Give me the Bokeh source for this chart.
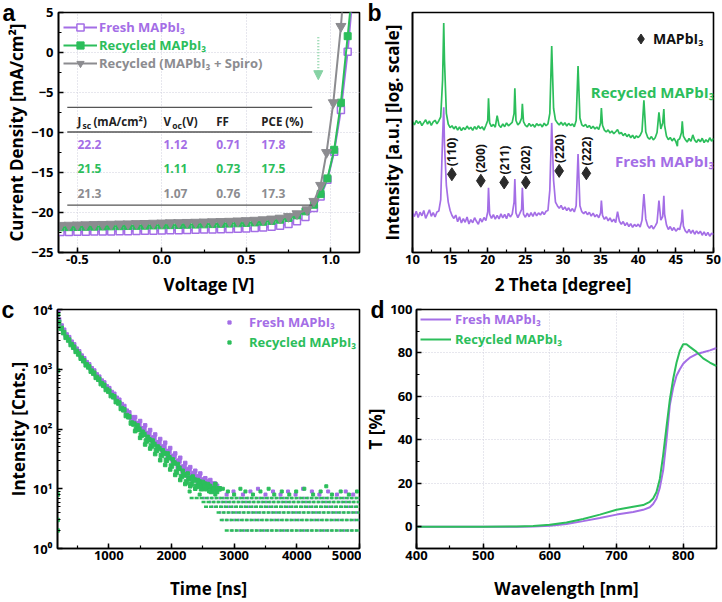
import numpy as np
from bokeh.plotting import figure
from bokeh.layouts import row, column
from bokeh.models import (Legend, LegendItem, Title, Arrow, NormalHead, Range1d,
                          SingleIntervalTicker, FixedTicker, NumeralTickFormatter)
from bokeh.core.properties import value
from bokeh.embed import file_html
from bokeh.resources import INLINE

PURPLE = "#A46EE6"
GREEN = "#2CBE5B"
GRAY = "#8C8C90"
FONT = "Open Sans"

# ---------------- (a) J-V curves ----------------
fresh_v = [-0.60, -0.55, -0.50, -0.45, -0.40, -0.35, -0.30, -0.25, -0.20, -0.15, -0.10, -0.05,
           0.00, 0.05, 0.10, 0.15, 0.20, 0.25, 0.30, 0.35, 0.40, 0.45, 0.50, 0.55, 0.60, 0.65,
           0.70, 0.75, 0.80, 0.85, 0.90, 0.94, 0.98, 1.02, 1.06, 1.10, 1.15]
fresh_j = [-22.45, -22.43, -22.42, -22.40, -22.39, -22.37, -22.36, -22.34, -22.33, -22.31, -22.29,
           -22.27, -22.25, -22.23, -22.21, -22.19, -22.17, -22.14, -22.12, -22.09, -22.06, -22.03,
           -21.99, -21.94, -21.88, -21.79, -21.66, -21.45, -21.10, -20.55, -19.45, -18.0, -15.9,
           -12.4, -7.2, 0.1, 12.0]
recycled_v = fresh_v
recycled_j = [-21.85, -21.83, -21.81, -21.79, -21.77, -21.75, -21.73, -21.71, -21.69, -21.67,
              -21.65, -21.62, -21.60, -21.58, -21.56, -21.53, -21.51, -21.48, -21.45, -21.42,
              -21.39, -21.35, -21.30, -21.24, -21.16, -21.05, -20.90, -20.68, -20.35, -19.85,
              -19.03, -17.7, -15.74, -12.16, -6.27, 2.04, 12.5]
spiro_v = [-0.60, -0.55, -0.50, -0.45, -0.40, -0.35, -0.30, -0.25, -0.20, -0.15, -0.10, -0.05,
           0.00, 0.05, 0.10, 0.15, 0.20, 0.25, 0.30, 0.35, 0.40, 0.45, 0.50, 0.55, 0.60, 0.65,
           0.70, 0.75, 0.80, 0.86, 0.90, 0.94, 0.975, 1.015, 1.06, 1.10]
spiro_j = [-21.60, -21.58, -21.55, -21.53, -21.50, -21.48, -21.46, -21.43, -21.41, -21.38, -21.36,
           -21.33, -21.31, -21.28, -21.26, -21.23, -21.21, -21.18, -21.15, -21.12, -21.09, -21.05,
           -21.01, -20.96, -20.90, -20.81, -20.70, -20.50, -20.15, -19.65, -18.6, -16.6, -12.5,
           -6.27, 3.27, 14.0]

jsc = [22.2, 21.5, 21.3]
voc = [1.12, 1.11, 1.07]
ff = [0.71, 0.73, 0.76]
pce = [17.8, 17.5, 17.3]

# ---------------- (b) XRD ----------------
theta_base = np.round(np.arange(10.0, 50.0001, 0.25), 2)
recycled_xrd = [
    54.5, 53.2, 55.0, 53.8,  54.6, 52.9, 54.1, 55.3,  53.5, 54.8, 53.0, 54.4,  55.1, 53.6, 54.9, 56.5,
    72.0, 80.0, 58.0, 53.5,  52.0, 52.8, 51.5, 52.6,  51.0, 52.3, 50.8, 52.0,  51.2, 52.7, 51.4, 52.2,
    50.9, 52.5, 51.3, 52.8,  51.6, 52.4, 51.0, 52.9,  55.0, 54.0, 52.5, 53.4,  52.2, 57.0, 53.0, 52.1,
    53.6, 52.4, 54.0, 52.8,  53.5, 54.2, 58.0, 55.0,  53.2, 54.0, 56.0, 54.5,  53.0, 52.4, 53.8, 52.6,
    53.4, 52.2, 53.7, 52.9,  53.5, 52.3, 53.9, 52.8,  53.6, 58.0, 86.0, 60.0,  55.2, 54.0, 53.1, 54.3,
    53.0, 54.1, 52.7, 53.8,  52.9, 53.6, 52.4, 55.0,  77.7, 56.0, 53.2, 52.6,  53.4, 52.1, 52.9, 51.7,
    52.6, 51.5, 52.3, 51.2,  54.0, 53.0, 51.0, 50.2,  51.1, 49.8, 50.6, 49.5,  50.3, 51.2, 49.4, 50.0,
    48.7, 49.6, 48.3, 49.2,  47.8, 48.9, 47.5, 48.6,  47.9, 48.8, 50.5, 63.4,  50.2, 48.0, 47.2, 48.3,
    46.9, 47.8, 50.0, 58.4,  51.5, 54.0, 53.0, 48.5,  47.0, 47.9, 46.5, 47.6,  46.2, 46.8, 47.4, 50.0,
    48.5, 47.1, 46.0, 47.5,  46.3, 49.0, 46.8, 45.9,  47.2, 46.1, 47.6, 45.8,  47.0, 46.0, 47.8, 46.4,
    47.5]
fresh_xrd = [
    16.5, 15.0, 17.2, 14.6,  16.8, 15.3, 17.5, 14.2,  16.0, 17.8, 15.1, 16.6,  14.8, 16.9, 17.3, 22.0,
    48.0, 45.0, 28.0, 21.0,  17.5, 15.4, 14.2, 15.6,  12.8, 14.9, 12.3, 14.1,  12.6, 14.8, 11.9, 13.7,
    12.4, 14.5, 13.0, 11.8,  14.2, 12.7, 14.6, 13.3,  17.0, 16.0, 14.2, 15.8,  13.9, 15.5, 14.0, 16.1,
    14.4, 15.9, 14.1, 16.3,  14.8, 16.0, 21.0, 16.5,  14.5, 16.2, 18.0, 16.0,  14.7, 16.4, 14.9, 16.6,
    15.0, 16.8, 15.3, 16.5,  15.6, 17.0, 15.8, 17.2,  17.5, 26.0, 54.0, 30.0,  21.0, 19.5, 18.4, 19.6,
    17.9, 19.0, 17.5, 18.6,  17.2, 18.3, 16.9, 19.5,  41.0, 19.5, 17.0, 16.2,  17.1, 15.8, 16.7, 15.2,
    16.4, 14.9, 15.8, 14.5,  16.5, 15.5, 13.8, 14.9,  13.2, 14.4, 12.8, 13.9,  12.5, 17.0, 13.0, 11.8,
    12.9, 11.2, 12.4, 10.8,  12.0, 10.5, 11.7, 10.9,  11.8, 10.6, 13.5, 24.4,  14.0, 11.2, 10.1, 11.3,
    9.8, 11.0, 12.5, 21.6,  13.5, 15.0, 16.0, 11.5,  9.6, 10.8, 9.2, 10.4,  8.9, 10.1, 9.5, 13.0,
    11.0, 9.0, 8.2, 9.6,  8.0, 9.3, 7.6, 9.0,  7.8, 8.9, 7.2, 8.6,  7.0, 8.4, 6.8, 8.0,
    7.5]
peak_theta = [14.15, 20.1, 23.6, 24.6, 35.1, 43.4, 45.2, 45.85]
recycled_peak = [95.6, 64.3, 68.4, 62.0, 60.2, 59.8, 44.3, 54.7]
fresh_peak = [60.5, 27.0, 30.6, 27.0, 21.6, 23.6, 9.6, 17.9]

hkl_theta = [15.23, 19.08, 22.18, 25.06, 29.49, 33.1]
hkl_level = [32.6, 29.9, 29.2, 29.2, 34.0, 33.0]
hkl_labels = ["(110)", "(200)", "(211)", "(202)", "(220)", "(222)"]

# ---------------- (c) TRPL ----------------
decay_t = np.arange(200, 2761, 40)
recycled_decay = [6100, 4850, 4100, 3420, 3080, 2590, 2340, 1990, 1800, 1530,
                  1390, 1185, 1095, 930, 860, 731, 680, 575, 538, 458,
                  430, 362, 345, 287, 272, 221, 209, 168, 160, 126,
                  121, 98, 99, 79, 81, 63, 66, 52, 55, 44,
                  47, 36, 39, 30, 33, 24, 27, 19, 22, 16,
                  17, 13, 15, 12, 14, 11, 13, 10, 12, 10,
                  11, 9, 10, 9, 10]
fresh_decay = [6700, 5300, 4500, 3750, 3380, 2840, 2560, 2170, 1960, 1660,
               1500, 1290, 1185, 1020, 935, 805, 738, 635, 590, 508,
               474, 408, 381, 327, 303, 256, 238, 199, 186, 155,
               145, 123, 120, 101, 100, 83, 84, 69, 71, 58,
               59, 49, 50, 41, 42, 34, 35, 28, 29, 23,
               23, 19, 21, 17, 18, 15, 16, 13, 14, 12,
               13, 11, 12, 11, 10]
scatter_t = np.arange(1420, 2701, 40)
recycled_scatter = [92, 115, 71, 90, 55, 74, 47, 64, 38, 51, 30, 44, 25, 39, 21, 31, 17, 26, 14, 20,
                    12, 18, 11, 16, 10, 14, 11, 13, 10, 12, 11, 10, 12]
fresh_scatter = [158, 106, 136, 90, 115, 72, 96, 62, 81, 51, 68, 42, 59, 35, 48, 29, 39, 23, 33, 19,
                 27, 16, 23, 14, 20, 13, 18, 12, 15, 11, 14, 10, 12]
recycled_rise_t = [183, 183, 184, 186, 192]
recycled_rise_i = [2, 3, 8, 950, 8200]
fresh_rise_t = [194]
fresh_rise_i = [9600]
tail_levels = [2, 3, 4, 5, 6, 7]
recycled_tail_start = [2850, 2770, 2720, 2520, 2480, 2290]
fresh_tail_start = [2950, 2800, 2760, 2640, 2600, 2500]
tail_end = 5000
recycled_sparse_t = [2290, 2450, 2600, 2700, 2820, 2900, 3000, 3100, 3180, 3300, 3420, 3550, 3640,
                     3760, 3880, 3990, 4120, 4260, 4380, 4470, 4560, 4700, 4830, 4960]
recycled_sparse_i = [9, 8, 9, 8, 10, 9, 8, 10, 9, 8, 9, 10, 8, 9, 8, 9, 10, 8, 9, 11, 8, 9, 8, 9]
fresh_sparse_t = [2650, 2780, 2880, 2990, 3140, 3260, 3380, 3500, 3620, 3740, 3860, 3980, 4100,
                  4240, 4360, 4500, 4640, 4780, 4900]
fresh_sparse_i = [9, 10, 8, 9, 8, 9, 10, 8, 9, 8, 9, 8, 10, 9, 8, 9, 8, 9, 8]

# ---------------- (d) Transmittance ----------------
wavelength = [400, 450, 500, 550, 575, 600, 625, 650, 675, 700, 725, 740, 750, 755, 760, 765, 770,
              775, 780, 785, 790, 795, 800, 805, 810, 820, 830, 840, 850]
recycled_T = [0, 0, 0, 0.1, 0.3, 0.9, 2.0, 3.6, 5.6, 7.8, 9.2, 10.0, 11.5, 13.0, 16.0, 22.0, 33.0,
              46.0, 58.5, 68.0, 75.5, 81.0, 84.0, 84.0, 82.8, 80.5, 77.5, 75.6, 74.0]
fresh_T = [0, 0, 0, 0, 0.1, 0.5, 1.3, 2.6, 4.0, 5.6, 6.8, 7.8, 9.0, 10.5, 13.0, 18.0, 26.0,
           40.0, 56.0, 64.0, 69.5, 72.5, 75.0, 76.5, 77.8, 79.5, 80.3, 81.2, 82.3]


def base_fig(w, h, xr, yr, bl, br, bt, bb, **kw):
    p = figure(width=w, height=h, x_range=xr, y_range=yr, output_backend="svg",
               toolbar_location=None, min_border_left=bl, min_border_right=br,
               min_border_top=bt, min_border_bottom=bb, **kw)
    p.outline_line_color = "black"
    p.outline_line_width = 1.6
    p.outline_line_alpha = 1.0
    for ax in p.axis:
        ax.axis_line_width = 1.6
        ax.axis_line_color = "black"
        ax.major_tick_in = 5
        ax.major_tick_out = 0
        ax.minor_tick_in = 3
        ax.minor_tick_out = 0
        ax.major_tick_line_width = 1.5
        ax.minor_tick_line_width = 1.2
        ax.major_label_text_font = FONT
        ax.major_label_text_font_style = "bold"
        ax.major_label_text_font_size = "13px"
        ax.major_label_text_color = "black"
        ax.axis_label_text_font = FONT
        ax.axis_label_text_font_style = "bold"
        ax.axis_label_text_font_size = "17px"
        ax.axis_label_text_color = "black"
    p.xaxis.major_label_standoff = 2
    p.xaxis.axis_label_standoff = 6
    p.yaxis.major_label_standoff = 5
    p.yaxis.axis_label_standoff = 0
    p.grid.grid_line_color = "#cfcfdc"
    p.grid.grid_line_dash = "1 2"
    p.background_fill_color = "white"
    p.border_fill_color = "white"
    return p


def add_legend(p, label, renderers, color, x, y, gw, gh, standoff, size="13px"):
    lg = Legend(items=[LegendItem(label=value(label), renderers=renderers)], location=(x, y),
                orientation="vertical", background_fill_alpha=0, border_line_alpha=0,
                padding=0, margin=0, spacing=0, glyph_width=gw, glyph_height=gh,
                label_height=gh, label_standoff=standoff, label_text_color=color,
                label_text_font=FONT, label_text_font_style="bold", label_text_font_size=size,
                label_text_baseline="middle")
    p.add_layout(lg)


def add_letter(p, letter, dx, standoff=-27):
    # panel letter placed in the (unclipped) top side panel, shifted left of the frame
    try:
        t = Title(text=letter, align="left", offset=dx, standoff=standoff,
                  vertical_align="bottom", text_font="Liberation Sans",
                  text_font_size="23px", text_font_style="bold", text_color="black")
        p.add_layout(t, "above")
    except Exception:
        pass


# ======== panel a ========
pa = base_fig(361, 298, Range1d(-0.612, 1.17), Range1d(-25, 5), 58, 2, 12, 43)
pa.xaxis.ticker = SingleIntervalTicker(interval=0.5, num_minor_ticks=2)
pa.xaxis.formatter = NumeralTickFormatter(format="0.0")
pa.yaxis.ticker = SingleIntervalTicker(interval=5, num_minor_ticks=2)
pa.xaxis.axis_label = "Voltage [V]"
pa.yaxis.axis_label = "Current Density [mA/cm²]"

fl = pa.line(fresh_v, fresh_j, line_color=PURPLE, line_width=2)
fs = pa.scatter(fresh_v, fresh_j, marker="square", size=7, fill_color="white",
                line_color=PURPLE, line_width=1.5)
rl = pa.line(recycled_v, recycled_j, line_color=GREEN, line_width=2)
rs = pa.scatter(recycled_v, recycled_j, marker="square", size=7, fill_color=GREEN,
                line_color=GREEN)
sl = pa.line(spiro_v, spiro_j, line_color=GRAY, line_width=2)
ss = pa.scatter(spiro_v, spiro_j, marker="inverted_triangle", size=10, fill_color=GRAY,
                line_color=GRAY)

# table
table_line_y = [-6.85, -9.94, -19.07]
pa.segment(x0=[-0.56] * 3, y0=table_line_y, x1=[0.89] * 3, y1=table_line_y,
           line_color="#555555", line_width=1.3)
hdr_y = -8.58
txt_kw = dict(text_font=value(FONT), text_font_style="bold", text_align="left",
              text_baseline="middle")
pa.text(x=[-0.5, -0.405, 0.009, 0.121, 0.322, 0.589], y=[hdr_y] * 6,
        text=["J", "(mA/cm²)", "V", "(V)", "FF", "PCE (%)"], text_font_size="11.5px",
        text_color="#222222", **txt_kw)
pa.text(x=[-0.47, 0.062], y=[hdr_y - 0.5] * 2, text=["sc", "oc"], text_font_size="8.5px",
        text_color="#222222", **txt_kw)
row_y = [-11.55, -14.51, -17.6]
row_colors = [PURPLE, GREEN, GRAY]
col_x = [-0.5, 0.009, 0.322, 0.589]
for i in range(3):
    pa.text(x=col_x, y=[row_y[i]] * 4,
            text=[f"{jsc[i]:.1f}", f"{voc[i]:.2f}", f"{ff[i]:.2f}", f"{pce[i]:.1f}"],
            text_font_size="12px", text_color=row_colors[i], **txt_kw)

pa.add_layout(Arrow(end=NormalHead(size=9, fill_color="#86d2a4", line_color="#86d2a4"),
                    x_start=0.926, y_start=1.9, x_end=0.926, y_end=-3.4,
                    line_color="#86d2a4", line_width=2.2, line_dash="1 2"))

add_legend(pa, "Fresh MAPbI₃", [fl, fs], PURPLE, 5, 216, 34, 18, 2)
add_legend(pa, "Recycled MAPbI₃", [rl, rs], GREEN, 5, 198, 34, 18, 2)
add_legend(pa, "Recycled (MAPbI₃ + Spiro)", [sl, ss], GRAY, 5, 180, 34, 18, 2)
add_letter(pa, "a", -56)

# ======== panel b ========
pb = base_fig(361, 298, Range1d(10, 50), Range1d(0, 100), 51, 9, 12, 43)
pb.xaxis.ticker = SingleIntervalTicker(interval=5, num_minor_ticks=2)
pb.yaxis.ticker = FixedTicker(ticks=[])
pb.yaxis.axis_label_standoff = 9
pb.xaxis.axis_label = "2 Theta [degree]"
pb.yaxis.axis_label = "Intensity [a.u.] [log. scale]"
pb.grid.visible = False

tx = np.concatenate([theta_base, peak_theta])
order = np.argsort(tx, kind="stable")
rec_y = np.concatenate([recycled_xrd, recycled_peak])[order]
fre_y = np.concatenate([fresh_xrd, fresh_peak])[order]
tx = tx[order]
pb.line(tx, rec_y, line_color=GREEN, line_width=1.7)
pb.line(tx, fre_y, line_color=PURPLE, line_width=1.7)
dm = pb.scatter(hkl_theta, hkl_level, marker="diamond", size=13, fill_color="#2b2b2b",
                line_color="#2b2b2b")
pb.text(x=hkl_theta, y=[v + 3.3 for v in hkl_level], text=hkl_labels, angle=np.pi / 2,
        text_font=value(FONT), text_font_style="bold", text_font_size="12px",
        text_color="#111111", text_align="left", text_baseline="middle")
pb.text(x=[41.9], y=[67], text=["Recycled MAPbI₃"], text_font=value(FONT),
        text_font_style="bold", text_font_size="15px", text_color=GREEN,
        text_align="center", text_baseline="middle")
pb.text(x=[43.5], y=[38], text=["Fresh MAPbI₃"], text_font=value(FONT),
        text_font_style="bold", text_font_size="15px", text_color=PURPLE,
        text_align="center", text_baseline="middle")
add_legend(pb, "MAPbI₃", [dm], "#111111", 216, 201, 25, 25, 0, size="14px")
add_letter(pb, "b", -45)

# ======== panel c ========
pc = base_fig(361, 304, Range1d(182, 5000), Range1d(1, 10000), 57, 2, 11, 54,
              y_axis_type="log")
pc.xaxis.ticker = SingleIntervalTicker(interval=1000, num_minor_ticks=2)
minor = [m * 10 ** e for e in range(0, 4) for m in range(2, 10)]
pc.yaxis.ticker = FixedTicker(ticks=[1, 10, 100, 1000, 10000], minor_ticks=minor)
pc.yaxis.major_label_overrides = {1: "10⁰", 10: "10¹", 100: "10²", 1000: "10³", 10000: "10⁴"}
pc.xaxis.axis_label = "Time [ns]"
pc.xaxis.axis_label_standoff = 14
pc.yaxis.axis_label = "Intensity [Cnts.]"
pc.grid.visible = False

pc.segment(x0=fresh_tail_start, y0=tail_levels, x1=[tail_end] * len(tail_levels),
           y1=tail_levels, line_color=PURPLE, line_width=2.6, line_dash="2 2")
pc.segment(x0=recycled_tail_start, y0=tail_levels, x1=[tail_end] * len(tail_levels),
           y1=tail_levels, line_color=GREEN, line_width=2.6, line_dash="4 1")
cf = pc.scatter(decay_t, fresh_decay, marker="square", size=4.5, color=PURPLE)
pc.scatter(scatter_t, fresh_scatter, marker="square", size=3.5, color=PURPLE)
pc.scatter(fresh_rise_t, fresh_rise_i, marker="square", size=3.5, color=PURPLE)
pc.scatter(fresh_sparse_t, fresh_sparse_i, marker="square", size=3, color=PURPLE)
cr = pc.scatter(decay_t, recycled_decay, marker="square", size=4.5, color=GREEN)
pc.scatter(scatter_t, recycled_scatter, marker="square", size=3.5, color=GREEN)
pc.scatter(recycled_rise_t, recycled_rise_i, marker="square", size=3.5, color=GREEN)
pc.scatter(recycled_sparse_t, recycled_sparse_i, marker="square", size=3, color=GREEN)
add_legend(pc, "Fresh MAPbI₃", [cf], PURPLE, 168, 217, 8, 18, 16)
add_legend(pc, "Recycled MAPbI₃", [cr], GREEN, 168, 197, 8, 18, 16)
add_letter(pc, "c", -56)

# ======== panel d ========
pd_ = base_fig(361, 304, Range1d(400, 850), Range1d(-10, 100), 52, 6, 11, 54)
pd_.xaxis.ticker = SingleIntervalTicker(interval=100, num_minor_ticks=2)
pd_.yaxis.ticker = SingleIntervalTicker(interval=20, num_minor_ticks=2)
pd_.xaxis.axis_label = "Wavelength [nm]"
pd_.xaxis.axis_label_standoff = 14
pd_.yaxis.axis_label = "T [%]"
pd_.yaxis.major_label_standoff = 4
pd_.yaxis.axis_label_standoff = 0
dfl = pd_.line(wavelength, fresh_T, line_color=PURPLE, line_width=2)
drl = pd_.line(wavelength, recycled_T, line_color=GREEN, line_width=2)
add_legend(pd_, "Fresh MAPbI₃", [dfl], PURPLE, 4, 220, 31, 18, 4)
add_legend(pd_, "Recycled MAPbI₃", [drl], GREEN, 4, 200, 31, 18, 4)
add_letter(pd_, "d", -46)

layout = column(row(pa, pb), row(pc, pd_))
open("out.html", "w").write(file_html(layout, INLINE))
